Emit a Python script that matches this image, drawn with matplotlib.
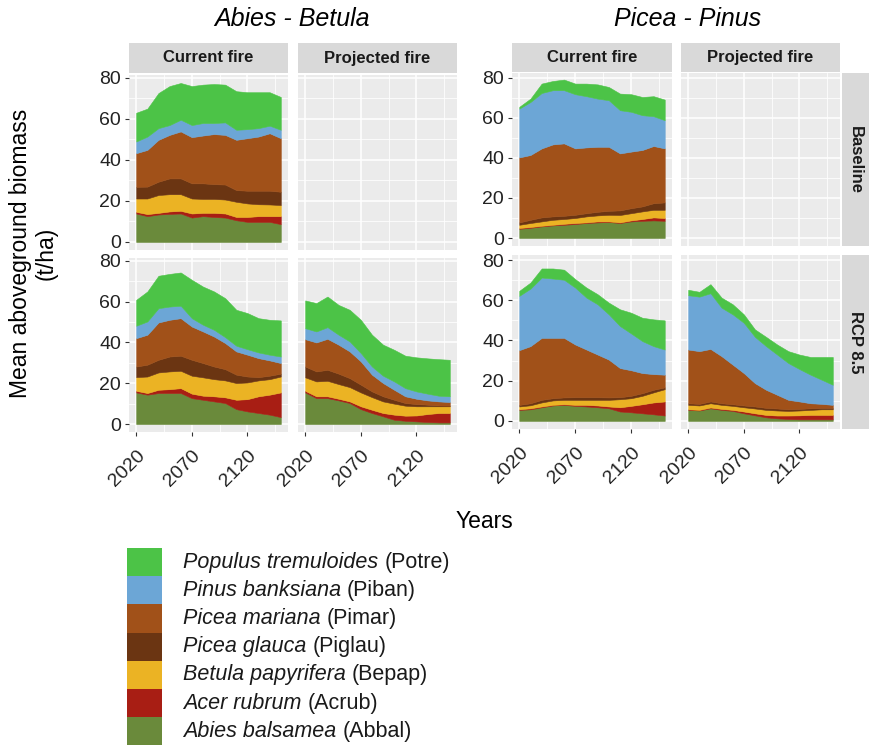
import numpy as np
import matplotlib
matplotlib.use("Agg")
import matplotlib.pyplot as plt
from matplotlib.patches import Rectangle
from matplotlib.ticker import FixedLocator

plt.rcParams['font.family'] = ['Liberation Sans', 'DejaVu Sans']

W, H = 869, 745

years = np.arange(2020, 2151, 10)

# stacking order, bottom to top
species = ["Abbal", "Acrub", "Bepap", "Piglau", "Pimar", "Piban", "Potre"]
latin = ["Abies balsamea", "Acer rubrum", "Betula papyrifera", "Picea glauca",
         "Picea mariana", "Pinus banksiana", "Populus tremuloides"]
colours = ["#6A8A3B", "#A81E14", "#EBB324", "#6B3512", "#A15119", "#6CA6D6", "#4CC347"]

# mean aboveground biomass (t/ha) per species, rows follow `species`
ab_cur_base = [
    [13.9, 12.6, 13.4, 13.7, 13.9, 11.9, 12.6, 12.2, 11.9, 10.6, 9.8, 9.8, 9.8, 8.7],
    [0.8, 1.0, 0.8, 1.2, 1.3, 2.0, 1.6, 2.0, 2.0, 1.6, 2.4, 2.8, 2.8, 3.9],
    [6.5, 7.6, 8.7, 8.4, 8.1, 7.3, 6.8, 6.8, 6.8, 7.4, 6.6, 5.8, 5.7, 5.4],
    [5.7, 5.8, 6.5, 7.7, 7.7, 7.4, 7.6, 7.2, 7.3, 5.7, 6.2, 6.6, 6.7, 6.5],
    [16.4, 17.9, 20.4, 21.2, 22.9, 22.5, 23.3, 24.4, 24.2, 24.5, 25.6, 26.4, 28.0, 26.1],
    [5.7, 6.5, 5.7, 4.8, 5.7, 5.9, 6.1, 5.4, 6.1, 4.9, 4.4, 4.1, 3.7, 4.1],
    [14.0, 13.6, 17.1, 19.0, 17.9, 19.0, 18.7, 19.0, 18.4, 18.8, 18.0, 17.5, 16.3, 16.0],
]
ab_cur_rcp = [
    [15.5, 14.4, 15.2, 15.2, 15.2, 12.7, 11.9, 11.1, 10.3, 7.3, 6.2, 5.4, 4.6, 3.4],
    [0.8, 0.8, 1.6, 1.9, 2.4, 2.2, 2.0, 2.5, 2.8, 4.6, 6.0, 8.2, 9.8, 12.1],
    [6.7, 8.1, 8.5, 8.7, 8.5, 8.8, 9.0, 8.4, 8.3, 8.2, 8.2, 7.8, 7.6, 7.8],
    [5.2, 5.8, 6.2, 7.3, 7.4, 7.8, 7.0, 6.2, 5.5, 4.1, 2.9, 1.6, 1.7, 1.4],
    [13.9, 14.7, 18.3, 18.0, 18.4, 16.3, 15.5, 14.7, 12.8, 11.4, 10.7, 9.3, 7.5, 5.2],
    [6.1, 6.5, 7.0, 6.5, 6.1, 4.1, 3.3, 3.3, 2.9, 2.8, 2.7, 2.8, 2.8, 3.2],
    [12.7, 14.7, 15.9, 16.0, 16.3, 18.8, 18.7, 18.8, 19.1, 17.6, 17.7, 16.8, 17.1, 17.7],
]
ab_proj_rcp = [
    [15.5, 12.7, 12.7, 11.6, 10.3, 7.3, 5.4, 3.8, 2.1, 1.6, 1.3, 1.0, 0.8, 0.8],
    [0.8, 0.9, 0.9, 0.8, 0.8, 1.4, 1.6, 1.6, 2.5, 2.5, 2.9, 3.9, 4.6, 4.6],
    [6.6, 7.3, 7.6, 7.2, 7.0, 6.8, 6.2, 5.7, 5.4, 4.9, 4.5, 3.8, 3.3, 3.3],
    [5.3, 4.9, 5.4, 5.1, 4.4, 3.8, 2.8, 2.5, 1.9, 1.3, 1.1, 0.8, 0.4, 0.3],
    [13.4, 14.2, 15.2, 14.2, 13.1, 11.4, 8.2, 6.5, 4.9, 3.3, 2.6, 2.1, 2.0, 1.8],
    [5.4, 5.4, 5.7, 4.9, 4.9, 4.1, 4.0, 3.6, 4.1, 4.0, 3.6, 3.3, 2.8, 2.8],
    [13.6, 13.9, 15.0, 14.6, 15.5, 16.3, 15.6, 15.2, 15.5, 15.9, 16.7, 17.3, 17.9, 17.9],
]
pp_cur_base = [
    [4.6, 5.1, 5.8, 6.3, 6.6, 7.0, 7.5, 7.8, 8.0, 7.5, 8.3, 8.6, 8.8, 8.6],
    [0.4, 0.4, 0.3, 0.3, 0.5, 0.5, 0.3, 0.5, 0.3, 0.3, 0.5, 0.9, 1.5, 1.4],
    [1.6, 2.0, 2.2, 2.5, 2.4, 2.5, 3.0, 3.0, 3.3, 3.7, 3.6, 3.8, 3.8, 4.1],
    [1.2, 1.6, 2.0, 1.7, 1.6, 1.6, 1.6, 1.8, 2.0, 2.3, 2.5, 2.5, 3.3, 3.7],
    [32.5, 32.4, 34.5, 36.0, 36.2, 33.2, 32.9, 32.5, 32.0, 28.5, 28.3, 28.2, 28.6, 27.0],
    [24.4, 26.5, 27.7, 27.1, 26.6, 27.1, 25.6, 24.1, 23.3, 21.6, 19.9, 17.4, 14.9, 14.1],
    [0.9, 1.7, 4.7, 4.6, 5.3, 5.3, 6.3, 7.1, 6.6, 8.3, 8.8, 9.1, 10.0, 10.3],
]
pp_cur_rcp = [
    [5.5, 5.8, 6.8, 7.7, 8.0, 7.5, 7.2, 6.8, 6.3, 4.7, 4.3, 3.8, 3.3, 2.7],
    [0.3, 0.5, 0.4, 0.3, 0.3, 0.5, 0.8, 0.9, 0.9, 2.1, 3.2, 4.5, 5.9, 7.0],
    [1.4, 1.5, 2.0, 2.2, 2.2, 2.5, 2.5, 2.8, 3.3, 4.0, 3.8, 4.2, 5.0, 6.1],
    [0.8, 1.0, 1.3, 1.1, 1.2, 1.3, 1.3, 1.3, 1.2, 1.0, 1.2, 1.3, 1.3, 0.9],
    [27.2, 28.4, 30.8, 30.0, 29.6, 26.2, 23.7, 21.2, 18.8, 14.5, 12.7, 10.0, 7.8, 6.3],
    [27.0, 28.6, 30.0, 29.5, 28.9, 28.3, 25.8, 25.0, 22.5, 20.9, 18.3, 15.9, 13.9, 12.5],
    [2.5, 3.0, 4.5, 5.0, 5.0, 4.2, 5.0, 5.0, 5.8, 8.3, 10.3, 11.6, 13.3, 14.5],
]
pp_proj_rcp = [
    [5.5, 5.2, 6.3, 5.5, 5.0, 3.8, 2.8, 1.8, 1.3, 1.0, 0.8, 0.8, 0.8, 0.8],
    [0.3, 0.3, 0.4, 0.5, 0.5, 0.9, 1.0, 1.2, 1.4, 1.7, 2.0, 2.2, 2.2, 2.2],
    [2.2, 2.2, 2.1, 2.0, 2.0, 2.1, 2.4, 2.5, 2.5, 2.3, 2.4, 2.5, 2.8, 2.8],
    [0.8, 0.8, 0.9, 0.8, 0.8, 0.9, 1.0, 1.0, 1.0, 0.8, 0.8, 0.8, 0.7, 0.7],
    [26.7, 26.2, 26.1, 23.4, 19.7, 16.1, 11.6, 9.0, 6.8, 4.7, 3.7, 2.5, 2.0, 1.5],
    [27.0, 27.1, 27.7, 24.1, 25.0, 25.0, 23.0, 21.7, 20.0, 18.3, 16.1, 14.2, 12.0, 10.0],
    [2.7, 2.4, 4.5, 5.0, 5.0, 4.2, 3.7, 4.6, 5.0, 5.9, 7.2, 8.8, 11.3, 13.8],
]

fire_labels = ["Current fire", "Projected fire"]
climate_labels = ["Baseline", "RCP 8.5"]
x_ticks = [2020, 2070, 2120]
y_ticks = [0, 20, 40, 60, 80]

fig = plt.figure(figsize=(W / 100, H / 100), dpi=100)


def box(x0, y0, x1, y1, **kw):
    # pixel box (top-left origin) -> figure axes
    return fig.add_axes([x0 / W, 1 - y1 / H, (x1 - x0) / W, (y1 - y0) / H], **kw)


def panel(x0, y0, x1, y1, data, ylim, left, bottom):
    ax = box(x0, y0, x1, y1)
    ax.set_facecolor("#EBEBEB")
    for s in ax.spines.values():
        s.set_visible(False)
    ax.set_axisbelow(True)
    ax.set_xlim(2013.5, 2156.5)
    ax.set_ylim(*ylim)
    ax.xaxis.set_major_locator(FixedLocator(x_ticks))
    ax.xaxis.set_minor_locator(FixedLocator([2045, 2095, 2145]))
    ax.yaxis.set_major_locator(FixedLocator(y_ticks))
    ax.yaxis.set_minor_locator(FixedLocator([10, 30, 50, 70]))
    ax.grid(which="major", color="white", lw=1.1)
    ax.grid(which="minor", color="white", lw=0.55)
    ax.tick_params(which="minor", length=0)
    ax.tick_params(which="major", length=2.75, width=0.8, color="#333333",
                   labelsize=14, labelcolor="#222222")
    ax.tick_params(axis="y", pad=3, left=left, labelleft=left)
    ax.tick_params(axis="x", pad=8, bottom=bottom, labelbottom=bottom)
    if bottom:
        for lab in ax.get_xticklabels():
            lab.set_rotation(45)
            lab.set_ha("right")
            lab.set_va("top")
            lab.set_rotation_mode("anchor")
    if data is not None:
        ax.stackplot(years, *data, colors=colours, edgecolor="face", linewidth=0.4)
    return ax


def strip(x0, y0, x1, y1, text, rot=0):
    ax = box(x0, y0, x1, y1)
    ax.set_facecolor("#D9D9D9")
    ax.set_xticks([])
    ax.set_yticks([])
    for s in ax.spines.values():
        s.set_visible(False)
    ax.text(0.5, 0.5, text, transform=ax.transAxes, ha="center", va="center",
            fontsize=12, fontweight="bold", color="#1a1a1a", rotation=rot)


# Abies - Betula
ab_cols = [(129, 288), (298, 457)]
ab_rows = [(75, 250), (258, 432)]
ab_data = [[ab_cur_base, None], [ab_cur_rcp, ab_proj_rcp]]
for j, (x0, x1) in enumerate(ab_cols):
    strip(x0, 43, x1, 73, fire_labels[j])
    for i, (y0, y1) in enumerate(ab_rows):
        panel(x0, y0, x1, y1, ab_data[i][j], (-3.9, 81.4), j == 0, i == 1)

# Picea - Pinus
pp_cols = [(512, 672), (681, 840)]
pp_rows = [(73, 246), (255, 429)]
pp_data = [[pp_cur_base, None], [pp_cur_rcp, pp_proj_rcp]]
for j, (x0, x1) in enumerate(pp_cols):
    strip(x0, 43, x1, 72, fire_labels[j])
    for i, (y0, y1) in enumerate(pp_rows):
        panel(x0, y0, x1, y1, pp_data[i][j], (-4.0, 82.5), j == 0, i == 1)
for i, (y0, y1) in enumerate(pp_rows):
    strip(842, y0, 869, y1, climate_labels[i], rot=-90)

fig.text(292 / W, 1 - 19 / H, "Abies - Betula", fontsize=18, style="italic",
         ha="center", va="center")
fig.text(688 / W, 1 - 19 / H, "Picea - Pinus", fontsize=18, style="italic",
         ha="center", va="center")
fig.text(33 / W, 1 - 253 / H, "Mean aboveground biomass\n(t/ha)", fontsize=16.5,
         rotation=90, ha="center", va="center", linespacing=1.15)
fig.text(484 / W, 1 - 521 / H, "Years", fontsize=16.5, ha="center", va="center")

# legend, top entry is the top layer
renderer = fig.canvas.get_renderer()
row_h = 28.2
for k in range(len(species)):
    idx = len(species) - 1 - k
    y_top = 548 + k * row_h
    fig.patches.append(Rectangle((127 / W, 1 - (y_top + row_h) / H), 35 / W, row_h / H,
                                 transform=fig.transFigure, facecolor=colours[idx],
                                 edgecolor="none"))
    yc = 1 - (y_top + row_h / 2) / H
    t = fig.text(183 / W, yc, latin[idx] + " ", fontsize=15.5, style="italic",
                 ha="left", va="center", color="#1a1a1a")
    bb = t.get_window_extent(renderer)
    fig.text(bb.x1 / W, yc, "(" + species[idx] + ")", fontsize=15.5,
             ha="left", va="center", color="#1a1a1a")

fig.savefig("out.png", dpi=100)
